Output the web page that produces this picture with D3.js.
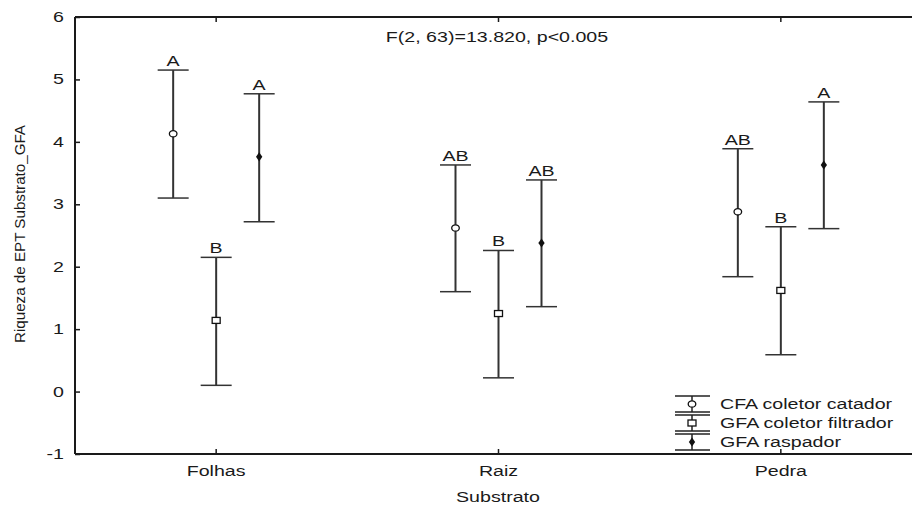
<!DOCTYPE html>
<html>
<head>
<meta charset="utf-8">
<script src="https://cdn.jsdelivr.net/npm/d3@7"></script>
<style>
    body { margin: 0; background: #fff; }
    text { font-family: Arial, "Liberation Sans", sans-serif; fill: #1a1a1a; }
</style>
</head>
<body>
<div id="chart"></div>
<script>
// Data
const categories = ["Folhas", "Raiz", "Pedra"];
const series = ["CFA coletor catador", "GFA coletor filtrador", "GFA raspador"];
const seriesKeys = ["cfa", "filtrador", "raspador"];

// means, upper and lower bounds of each interval, per substrate
const meanCFA = [4.13, 2.62, 2.88];
const upperCFA = [5.15, 3.63, 3.89];
const lowerCFA = [3.10, 1.60, 1.84];

const meanFiltrador = [1.14, 1.25, 1.62];
const upperFiltrador = [2.15, 2.26, 2.64];
const lowerFiltrador = [0.10, 0.22, 0.59];

const meanRaspador = [3.76, 2.38, 3.63];
const upperRaspador = [4.77, 3.39, 4.64];
const lowerRaspador = [2.72, 1.36, 2.61];

// letters of the post-hoc test
const lettersCFA = ["A", "AB", "AB"];
const lettersFiltrador = ["B", "B", "B"];
const lettersRaspador = ["A", "AB", "A"];

const yTicks = [-1, 0, 1, 2, 3, 4, 5, 6];
const statText = "F(2, 63)=13.820, p<0.005";

// Build rows for drawing
let rows = [];
const means = [meanCFA, meanFiltrador, meanRaspador];
const uppers = [upperCFA, upperFiltrador, upperRaspador];
const lowers = [lowerCFA, lowerFiltrador, lowerRaspador];
const letters = [lettersCFA, lettersFiltrador, lettersRaspador];
for (let s = 0; s < seriesKeys.length; s++) {
    for (let c = 0; c < categories.length; c++) {
        rows.push({
            key: seriesKeys[s],
            cat: categories[c],
            mean: means[s][c],
            hi: uppers[s][c],
            lo: lowers[s][c],
            letter: letters[s][c]
        });
    }
}

const width = 912;
const height = 506;
const plotLeft = 75, plotRight = 922, plotTop = 17, plotBottom = 454;

let svg = d3.select("#chart")
    .append("svg")
    .attr("width", width)
    .attr("height", height);

// Scales
let x = d3.scaleBand()
    .domain(categories)
    .range([plotLeft, plotRight])
    .paddingInner(0).paddingOuter(0);

let offset = d3.scalePoint()
    .domain(seriesKeys)
    .range([-43, 43]);

let y = d3.scaleLinear()
    .domain([-1, 6])
    .range([plotBottom, plotTop]);

const cx = d => x(d.cat) + x.bandwidth() / 2 + offset(d.key);

// Axes
let axisY = d3.axisLeft(y)
    .tickValues(yTicks)
    .tickSize(-5)
    .tickPadding(11)
    .tickFormat(d => String(d));

let gY = svg.append("g")
    .attr("transform", `translate(${plotLeft},0)`)
    .call(axisY);

let axisX = d3.axisBottom(x)
    .tickSize(-5)
    .tickPadding(12);

let gX = svg.append("g")
    .attr("transform", `translate(0,${plotBottom})`)
    .call(axisX);

let axisTop = d3.axisTop(x)
    .tickSize(-5)
    .tickFormat("");

let gT = svg.append("g")
    .attr("transform", `translate(0,${plotTop})`)
    .call(axisTop);

[gY, gX, gT].forEach(g => {
    g.select(".domain").attr("stroke", "#1a1a1a").attr("stroke-width", 2);
    g.selectAll(".tick line").attr("stroke", "#1a1a1a").attr("stroke-width", 1.5);
    g.selectAll(".tick text").style("font-size", "14px").attr("fill", "#1a1a1a").classed("wide", true);
});
gY.select(".domain").attr("d", `M0,${plotTop}V${plotBottom}`);
gX.select(".domain").attr("d", `M${plotLeft},0H${plotRight}`);
gT.select(".domain").attr("d", `M${plotLeft},0H${plotRight}`);

// Axis titles
svg.append("text")
    .attr("class", "wide")
    .attr("x", 498)
    .attr("y", 502)
    .attr("text-anchor", "middle")
    .style("font-size", "14px")
    .text("Substrato");

svg.append("text")
    .attr("transform", `translate(25,234) rotate(-90)`)
    .attr("text-anchor", "middle")
    .style("font-size", "14px")
    .attr("textLength", 218)
    .attr("lengthAdjust", "spacingAndGlyphs")
    .text("Riqueza de EPT Substrato_GFA");

svg.append("text")
    .attr("class", "wide")
    .attr("x", 497)
    .attr("y", 42)
    .attr("text-anchor", "middle")
    .style("font-size", "14px")
    .text(statText);

// Error bars
const capW = 31;
let bars = svg.append("g").selectAll("g.bar")
    .data(rows)
    .enter().append("g")
    .attr("class", "bar");

bars.append("line")
    .attr("x1", cx).attr("x2", cx)
    .attr("y1", d => y(d.hi)).attr("y2", d => y(d.lo))
    .attr("stroke", "#333").attr("stroke-width", 2);

bars.append("line")
    .attr("x1", d => cx(d) - capW / 2).attr("x2", d => cx(d) + capW / 2)
    .attr("y1", d => y(d.hi)).attr("y2", d => y(d.hi))
    .attr("stroke", "#333").attr("stroke-width", 1.5);

bars.append("line")
    .attr("x1", d => cx(d) - capW / 2).attr("x2", d => cx(d) + capW / 2)
    .attr("y1", d => y(d.lo)).attr("y2", d => y(d.lo))
    .attr("stroke", "#333").attr("stroke-width", 1.5);

bars.append("text")
    .attr("class", "wide")
    .attr("x", cx)
    .attr("y", d => y(d.hi) - 4)
    .attr("text-anchor", "middle")
    .style("font-size", "14px")
    .text(d => d.letter);

// Markers
function drawMarker(g, key, px, py) {
    if (key === "cfa") {
        g.append("ellipse").attr("cx", px).attr("cy", py).attr("rx", 3.8).attr("ry", 3.2)
            .attr("fill", "#fff").attr("stroke", "#111").attr("stroke-width", 1.3);
    } else if (key === "filtrador") {
        g.append("rect").attr("x", px - 4).attr("y", py - 3).attr("width", 8).attr("height", 6)
            .attr("fill", "#fff").attr("stroke", "#111").attr("stroke-width", 1.3);
    } else {
        g.append("path")
            .attr("d", d3.symbol().type(d3.symbolDiamond).size(24)())
            .attr("transform", `translate(${px},${py}) scale(1.2,1)`)
            .attr("fill", "#111");
    }
}

bars.each(function(d) {
    drawMarker(d3.select(this), d.key, cx(d), y(d.mean));
});

// Legend
const legendRowsY = [404, 423, 442];
let legend = svg.append("g");
for (let i = 0; i < series.length; i++) {
    let ly = legendRowsY[i];
    let lg = legend.append("g");
    lg.append("line").attr("x1", 692).attr("x2", 692).attr("y1", ly - 8).attr("y2", ly + 8)
        .attr("stroke", "#222").attr("stroke-width", 1.5);
    lg.append("line").attr("x1", 675).attr("x2", 710).attr("y1", ly - 8).attr("y2", ly - 8)
        .attr("stroke", "#222").attr("stroke-width", 1.5);
    lg.append("line").attr("x1", 675).attr("x2", 710).attr("y1", ly + 8).attr("y2", ly + 8)
        .attr("stroke", "#222").attr("stroke-width", 1.5);
    drawMarker(lg, seriesKeys[i], 692, ly);
    lg.append("text")
        .attr("class", "wide")
        .attr("x", 720)
        .attr("y", ly + 5)
        .style("font-size", "14px")
        .text(series[i]);
}

// The picture's text is drawn wide: stretch every marked text horizontally
svg.selectAll("text.wide").each(function() {
    let len = this.getComputedTextLength();
    d3.select(this)
        .attr("textLength", len * 1.4)
        .attr("lengthAdjust", "spacingAndGlyphs");
});
</script>
</body>
</html>
